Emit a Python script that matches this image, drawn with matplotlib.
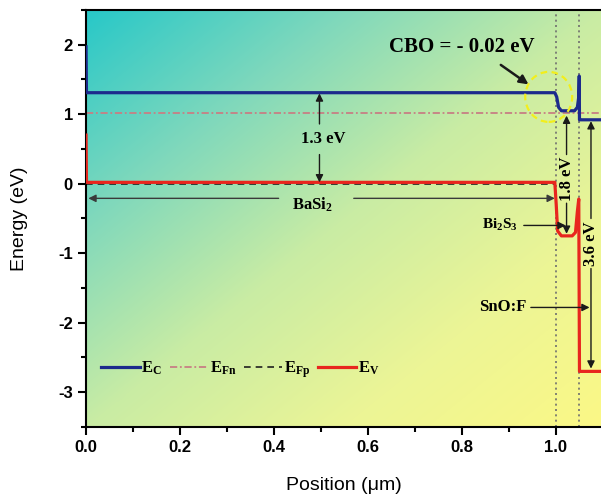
import numpy as np
import matplotlib
matplotlib.use("Agg")
import matplotlib.pyplot as plt
from matplotlib.colors import LinearSegmentedColormap
from matplotlib.patches import Ellipse
from matplotlib.ticker import MultipleLocator

plt.rcParams["mathtext.fontset"] = "custom"
plt.rcParams["mathtext.rm"] = "Liberation Serif:bold"
plt.rcParams["mathtext.it"] = "Liberation Serif:bold"
plt.rcParams["mathtext.bf"] = "Liberation Serif:bold"
plt.rcParams["axes.unicode_minus"] = False

# band edges (position in um, energy in eV)
ec_x = [0.0, 0.001, 0.998, 1.002, 1.006, 1.012, 1.040, 1.046, 1.049, 1.050, 1.0505, 1.052, 1.10]
ec_y = [1.97, 1.31, 1.31, 1.25, 1.10, 1.05, 1.05, 1.10, 1.25, 1.55, 0.92, 0.92, 0.92]
ev_x = [0.0, 0.001, 0.998, 1.001, 1.004, 1.012, 1.035, 1.042, 1.046, 1.049, 1.0505, 1.052, 1.10]
ev_y = [0.70, 0.02, 0.02, -0.30, -0.68, -0.75, -0.75, -0.70, -0.40, -0.22, -2.70, -2.70, -2.70]
efn_x = [0.0, 1.10]
efn_y = [1.02, 1.02]
efp_x = [0.0, 1.0]
efp_y = [0.0, 0.0]
interfaces = [1.0, 1.05]

serif = "Liberation Serif"
sans = "Liberation Sans"

fig = plt.figure(figsize=(6.01, 4.95), dpi=100)
ax = fig.add_axes([0.1431, 0.1374, 0.8586, 0.8424])

# diagonal teal (top left) -> yellow (bottom right) background
cmap = LinearSegmentedColormap.from_list(
    "bg", [(0.0, "#28c8c8"), (0.25, "#7fd8bc"), (0.5, "#c9eca4"),
           (0.75, "#ecf596"), (1.0, "#fbf886")])
u = np.linspace(0, 1, 300)
U, V = np.meshgrid(u, u)
grad = (U + V) / 2
ax.imshow(grad, extent=[0, 1, 0, 1], transform=ax.transAxes, cmap=cmap,
          aspect="auto", origin="upper", interpolation="bicubic", zorder=0)

for xi in interfaces:
    ax.axvline(xi, color="#6f6f6f", ls=(0, (1.2, 2.0)), lw=1.2, zorder=1)

ax.plot(efn_x, efn_y, color="#c77f84", lw=1.3, ls=(0, (4, 1.5, 1, 1.5)), zorder=2, label=r"E$_{\rm Fn}$")
ax.plot(efp_x, efp_y, color="#202020", lw=1.2, ls=(0, (4, 3)), zorder=2, label=r"E$_{\rm Fp}$")
ax.plot(ev_x, ev_y, color="#e8261e", lw=2.3, zorder=3, label=r"E$_{\rm V}$")
ax.plot(ec_x, ec_y, color="#1c2a8c", lw=2.3, zorder=3, label=r"E$_{\rm C}$")

ax.set_xlim(0, 1.0985)
ax.set_ylim(-3.5, 2.5)

# annotations
arr = dict(arrowstyle="-|>", color="#1a1a1a", lw=1.0, mutation_scale=11, shrinkA=0, shrinkB=0)
ax.text(0.80, 1.97, "CBO = - 0.02 eV", fontfamily=serif, fontweight="bold",
        fontsize=15, ha="center", va="center", zorder=5)
ax.annotate("", xy=(0.942, 1.43), xytext=(0.883, 1.71),
            arrowprops=dict(arr, lw=1.8, mutation_scale=13), zorder=5)
ax.add_patch(Ellipse((0.985, 1.25), 0.10, 0.72, fill=False, ec="#f2ee1c",
                     lw=1.6, ls=(0, (3, 2)), zorder=4))

ax.text(0.505, 0.64, "1.3 eV", fontfamily=serif, fontweight="bold",
        fontsize=12, ha="center", va="center", zorder=5)
ax.annotate("", xy=(0.497, 1.30), xytext=(0.497, 0.86), arrowprops=arr, zorder=5)
ax.annotate("", xy=(0.497, 0.02), xytext=(0.497, 0.42), arrowprops=arr, zorder=5)

ax.text(0.482, -0.31, r"BaSi$_2$", fontfamily=serif, fontweight="bold",
        fontsize=12, ha="center", va="center", zorder=5)
ax.annotate("", xy=(0.005, -0.21), xytext=(0.41, -0.21),
            arrowprops=dict(arr, color="#3a3a3a"), zorder=5)
ax.annotate("", xy=(0.998, -0.21), xytext=(0.57, -0.21),
            arrowprops=dict(arr, color="#3a3a3a"), zorder=5)

ax.text(1.023, 0.07, "1.8 eV", fontfamily=serif, fontweight="bold",
        fontsize=12, ha="center", va="center", rotation=90, zorder=5)
ax.annotate("", xy=(1.023, 0.98), xytext=(1.023, 0.42), arrowprops=arr, zorder=5)
ax.annotate("", xy=(1.023, -0.72), xytext=(1.023, -0.28), arrowprops=arr, zorder=5)

ax.text(1.075, -0.87, "3.6 eV", fontfamily=serif, fontweight="bold",
        fontsize=12, ha="center", va="center", rotation=90, zorder=5)
ax.annotate("", xy=(1.075, 0.90), xytext=(1.075, -0.50), arrowprops=arr, zorder=5)
ax.annotate("", xy=(1.075, -2.66), xytext=(1.075, -1.22), arrowprops=arr, zorder=5)

ax.text(0.882, -0.60, r"Bi$_2$S$_3$", fontfamily=serif, fontweight="bold",
        fontsize=11, ha="center", va="center", zorder=5)
ax.annotate("", xy=(1.021, -0.60), xytext=(0.932, -0.60), arrowprops=arr, zorder=5)

ax.text(0.887, -1.78, "SnO:F", fontfamily=serif, fontweight="bold",
        fontsize=12, ha="center", va="center", zorder=5)
ax.annotate("", xy=(1.072, -1.78), xytext=(0.947, -1.78), arrowprops=arr, zorder=5)

# legend in the order of the picture
h, l = ax.get_legend_handles_labels()
order = [3, 0, 1, 2]
leg = ax.legend([h[i] for i in order], [l[i] for i in order], ncol=4,
                loc="center left", bbox_to_anchor=(0.03, 0.138), frameon=False,
                prop=dict(family=serif, weight="bold", size=12),
                handlelength=2.3, handletextpad=0.1,
                columnspacing=0.45, borderpad=0, borderaxespad=0)

# axes styling
ax.spines["right"].set_visible(False)
for s in ["left", "bottom", "top"]:
    ax.spines[s].set_linewidth(1.5)
ax.xaxis.set_major_locator(MultipleLocator(0.2))
ax.xaxis.set_minor_locator(MultipleLocator(0.1))
ax.yaxis.set_major_locator(MultipleLocator(1))
ax.yaxis.set_minor_locator(MultipleLocator(0.5))
ax.tick_params(which="major", direction="out", length=6, width=1.5)
ax.tick_params(which="minor", direction="out", length=3.5, width=1.5)
ax.tick_params(top=False, right=False)
ax.set_xticks([0.0, 0.2, 0.4, 0.6, 0.8, 1.0])
ax.set_xticklabels(["0.0", "0.2", "0.4", "0.6", "0.8", "1.0"])
for lab in ax.get_xticklabels() + ax.get_yticklabels():
    lab.set_fontfamily(sans)
    lab.set_fontweight("bold")
    lab.set_fontsize(12)

ax.set_xlabel("Position (\u03bcm)", fontfamily=sans, fontsize=14, labelpad=16)
ax.set_ylabel("Energy (eV)", fontfamily=sans, fontsize=14, labelpad=22)

fig.savefig("out.png", dpi=100)
